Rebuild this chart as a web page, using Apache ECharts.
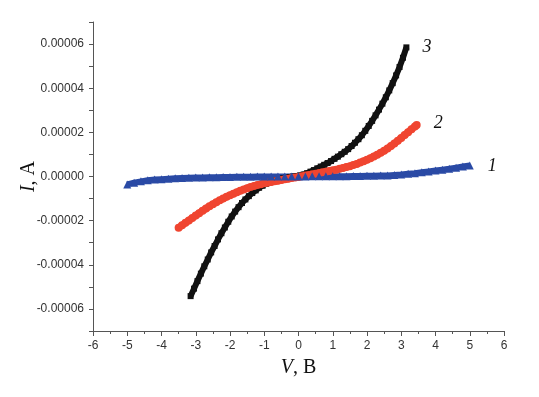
<!DOCTYPE html>
<html>
<head>
<meta charset="utf-8">
<script src="https://cdn.jsdelivr.net/npm/echarts@6/dist/echarts.min.js"></script>
<style>
  html, body { margin: 0; padding: 0; background: #fff; }
  #chart { width: 539px; height: 397px; }
</style>
</head>
<body>
<div id="chart"></div>
<script>
// curve 3 (black squares)
const voltage3 = [-3.15, -3.05, -2.95, -2.85, -2.75, -2.65, -2.55, -2.45, -2.35, -2.25,
  -2.15, -2.05, -1.95, -1.85, -1.75, -1.65, -1.55, -1.45, -1.35, -1.25,
  -1.15, -1.05, -0.95, -0.85, -0.75, -0.65, -0.55, -0.45, -0.35, -0.25,
  -0.15, -0.05, 0.05, 0.15, 0.25, 0.35, 0.45, 0.55, 0.65, 0.75,
  0.85, 0.95, 1.05, 1.15, 1.25, 1.35, 1.45, 1.55, 1.65, 1.75,
  1.85, 1.95, 2.05, 2.15, 2.25, 2.35, 2.45, 2.55, 2.65, 2.75,
  2.85, 2.95, 3.05, 3.15]
const current3 = [-5.42e-5, -5.08e-5, -4.74e-5, -4.40e-5, -4.07e-5, -3.76e-5, -3.44e-5, -3.15e-5, -2.85e-5, -2.57e-5,
  -2.31e-5, -2.05e-5, -1.81e-5, -1.59e-5, -1.39e-5, -1.20e-5, -1.04e-5, -0.89e-5, -0.75e-5, -0.63e-5,
  -0.51e-5, -0.42e-5, -0.33e-5, -0.26e-5, -0.20e-5, -0.16e-5, -0.12e-5, -0.08e-5, -0.05e-5, -0.02e-5,
  0.00e-5, 0.02e-5, 0.05e-5, 0.09e-5, 0.15e-5, 0.22e-5, 0.29e-5, 0.37e-5, 0.45e-5, 0.53e-5,
  0.61e-5, 0.70e-5, 0.80e-5, 0.90e-5, 1.01e-5, 1.12e-5, 1.24e-5, 1.38e-5, 1.53e-5, 1.69e-5,
  1.87e-5, 2.07e-5, 2.29e-5, 2.52e-5, 2.77e-5, 3.03e-5, 3.30e-5, 3.59e-5, 3.90e-5, 4.23e-5,
  4.58e-5, 4.96e-5, 5.38e-5, 5.85e-5]

// curve 2 (red circles)
const voltage2 = [-3.5, -3.4, -3.3, -3.2, -3.1, -3.0, -2.9, -2.8, -2.7, -2.6,
  -2.5, -2.4, -2.3, -2.2, -2.1, -2.0, -1.9, -1.8, -1.7, -1.6,
  -1.5, -1.4, -1.3, -1.2, -1.1, -1.0, -0.9, -0.8, -0.7, -0.6,
  -0.5, -0.4, -0.3, -0.2, -0.1, 0.0, 0.1, 0.2, 0.3, 0.4,
  0.5, 0.6, 0.7, 0.8, 0.9, 1.0, 1.1, 1.2, 1.3, 1.4,
  1.5, 1.6, 1.7, 1.8, 1.9, 2.0, 2.1, 2.2, 2.3, 2.4,
  2.5, 2.6, 2.7, 2.8, 2.9, 3.0, 3.1, 3.2, 3.3, 3.4, 3.45]
const current2 = [-2.32e-5, -2.21e-5, -2.10e-5, -1.99e-5, -1.88e-5, -1.77e-5, -1.66e-5, -1.55e-5, -1.45e-5, -1.35e-5,
  -1.26e-5, -1.17e-5, -1.08e-5, -1.00e-5, -0.92e-5, -0.85e-5, -0.78e-5, -0.71e-5, -0.65e-5, -0.59e-5,
  -0.53e-5, -0.48e-5, -0.43e-5, -0.39e-5, -0.35e-5, -0.31e-5, -0.28e-5, -0.25e-5, -0.22e-5, -0.19e-5,
  -0.16e-5, -0.13e-5, -0.10e-5, -0.07e-5, -0.04e-5, -0.02e-5, 0.01e-5, 0.04e-5, 0.07e-5, 0.10e-5,
  0.13e-5, 0.16e-5, 0.19e-5, 0.22e-5, 0.25e-5, 0.28e-5, 0.31e-5, 0.35e-5, 0.39e-5, 0.43e-5,
  0.47e-5, 0.52e-5, 0.57e-5, 0.63e-5, 0.69e-5, 0.76e-5, 0.83e-5, 0.91e-5, 0.99e-5, 1.08e-5,
  1.17e-5, 1.27e-5, 1.38e-5, 1.50e-5, 1.62e-5, 1.75e-5, 1.88e-5, 2.01e-5, 2.14e-5, 2.27e-5, 2.33e-5]

// curve 1 (blue triangles)
const voltage1 = [-5.0, -4.8, -4.6, -4.4, -4.2, -4.0, -3.8, -3.6, -3.4, -3.2,
  -3.0, -2.8, -2.6, -2.4, -2.2, -2.0, -1.8, -1.6, -1.4, -1.2,
  -1.0, -0.8, -0.6, -0.4, -0.2, 0.0, 0.2, 0.4, 0.6, 0.8,
  1.0, 1.2, 1.4, 1.6, 1.8, 2.0, 2.2, 2.4, 2.6, 2.8,
  3.0, 3.2, 3.4, 3.6, 3.8, 4.0, 4.2, 4.4, 4.6, 4.8, 5.0]
const current1 = [-0.36e-5, -0.28e-5, -0.22e-5, -0.17e-5, -0.14e-5, -0.12e-5, -0.10e-5, -0.08e-5, -0.07e-5, -0.06e-5,
  -0.05e-5, -0.04e-5, -0.03e-5, -0.03e-5, -0.02e-5, -0.02e-5, -0.01e-5, -0.01e-5, -0.01e-5, 0.00e-5,
  0.00e-5, 0.00e-5, 0.00e-5, 0.00e-5, 0.00e-5, 0.00e-5, 0.00e-5, 0.01e-5, 0.01e-5, 0.01e-5,
  0.01e-5, 0.01e-5, 0.01e-5, 0.02e-5, 0.02e-5, 0.03e-5, 0.03e-5, 0.04e-5, 0.05e-5, 0.07e-5,
  0.09e-5, 0.12e-5, 0.15e-5, 0.19e-5, 0.23e-5, 0.27e-5, 0.31e-5, 0.35e-5, 0.40e-5, 0.45e-5, 0.50e-5]

const curveNames = ['1', '2', '3']

const pairs = (xs, ys) => xs.map((x, i) => [x, ys[i]])

const chart = echarts.init(document.getElementById('chart'), null, { renderer: 'canvas' })

const serif = '"Liberation Serif", "Times New Roman", serif'
const sans = 'Arial, "Liberation Sans", sans-serif'

function curve(name, data, color, symbol, size, width, offset) {
  return {
    name: name,
    type: 'line',
    data: data,
    symbol: symbol,
    symbolSize: size,
    showSymbol: true,
    itemStyle: { color: color },
    lineStyle: { color: color, width: width },
    endLabel: {
      show: true,
      formatter: name,
      fontFamily: serif,
      fontStyle: 'italic',
      fontSize: 18,
      color: '#111',
      offset: offset
    }
  }
}

const nameStyle = {
  fontFamily: serif, fontSize: 20, color: '#111',
  rich: { i: { fontFamily: serif, fontStyle: 'italic', fontSize: 20, color: '#111' } }
}

const option = {
  animation: false,
  backgroundColor: '#fff',
  grid: { left: 93, right: 35, top: 22, bottom: 66, outerBoundsMode: 'none' },
  xAxis: {
    type: 'value',
    min: -6,
    max: 6,
    interval: 1,
    name: '{i|V}, B',
    nameLocation: 'middle',
    nameGap: 27,
    nameMoveOverlap: false,
    nameTextStyle: nameStyle,
    axisLine: { onZero: false, lineStyle: { color: '#555', width: 1 } },
    axisTick: { show: true, length: 5, lineStyle: { color: '#555' } },
    minorTick: { show: true, splitNumber: 2, length: 3, lineStyle: { color: '#555' } },
    splitLine: { show: false },
    axisLabel: { fontFamily: sans, fontSize: 12, color: '#333', margin: 9 }
  },
  yAxis: {
    type: 'value',
    min: -0.00007,
    max: 0.00007,
    interval: 0.00001,
    name: '{i|I}, A',
    nameLocation: 'middle',
    nameRotate: 90,
    nameGap: 54,
    nameMoveOverlap: false,
    nameTextStyle: nameStyle,
    axisLine: { show: true, onZero: false, lineStyle: { color: '#555', width: 1 } },
    axisTick: { show: true, length: 4, lineStyle: { color: '#555' } },
    splitLine: { show: false },
    axisLabel: {
      fontFamily: sans, fontSize: 12, color: '#333', margin: 9,
      formatter: function (v) {
        const n = Math.round(v * 1e5)
        if (n % 2 !== 0) return ''
        return (n / 1e5).toFixed(5)
      }
    }
  },
  series: [
    curve(curveNames[2], pairs(voltage3, current3), '#111111', 'rect', 6, 6, [8, 0]),
    curve(curveNames[1], pairs(voltage2, current2), '#f04530', 'circle', 8, 7, [9, -2]),
    curve(curveNames[0], pairs(voltage1, current1), '#2a4aa5', 'triangle', 8, 6, [10, 1])
  ]
}

chart.setOption(option)
</script>
</body>
</html>
